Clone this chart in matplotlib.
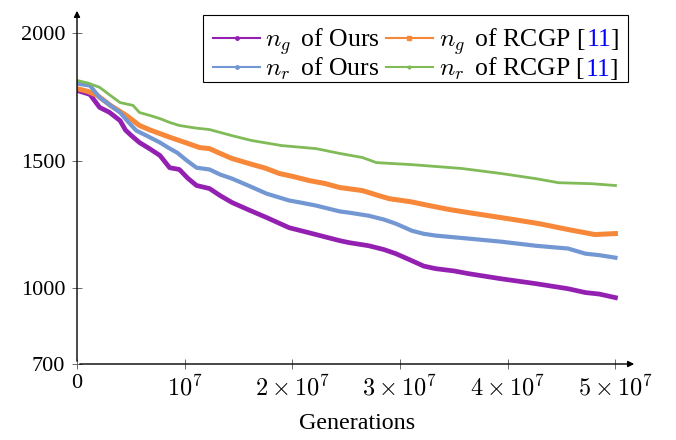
import matplotlib
matplotlib.use("Agg")
import matplotlib.pyplot as plt
from matplotlib.lines import Line2D
from matplotlib.patches import Rectangle

plt.rcParams['font.family'] = ['Liberation Serif', 'DejaVu Serif']
plt.rcParams['mathtext.fontset'] = 'cm'

# Generations in units of 1e7
ours_ng_x = [0, 0.12, 0.21, 0.3, 0.4, 0.45, 0.5, 0.58, 0.68, 0.77, 0.86, 0.95, 1.03, 1.11, 1.23, 1.33, 1.44,
             1.6, 1.76, 1.97, 2.1, 2.22, 2.44, 2.53, 2.71, 2.85, 2.96, 3.11, 3.22, 3.33, 3.5, 3.64, 3.94,
             4.26, 4.56, 4.72, 4.85, 5.0]
ours_ng_y = [1776, 1760, 1709, 1690, 1657, 1620, 1600, 1571, 1545, 1520, 1472, 1465, 1430, 1402, 1390,
             1362, 1335, 1305, 1276, 1236, 1222, 1209, 1185, 1177, 1165, 1150, 1134, 1106, 1085, 1075, 1066,
             1055, 1035, 1016, 996, 981, 975, 961]

rcgp_ng_x = [0, 0.1, 0.19, 0.31, 0.46, 0.58, 0.68, 0.77, 0.86, 0.95, 1.14, 1.23, 1.33, 1.44, 1.6, 1.75,
             1.88, 2.0, 2.16, 2.3, 2.44, 2.65, 2.78, 2.9, 3.1, 3.27, 3.45, 3.64, 4.01, 4.29, 4.57, 4.81, 5.0]
rcgp_ng_y = [1783, 1772, 1756, 1717, 1677, 1638, 1620, 1606, 1592, 1579, 1551, 1547, 1528, 1508, 1488,
             1470, 1449, 1438, 1421, 1410, 1394, 1382, 1365, 1350, 1338, 1323, 1308, 1295, 1271, 1252, 1228,
             1209, 1213]

ours_nr_x = [0, 0.12, 0.21, 0.3, 0.4, 0.48, 0.55, 0.66, 0.77, 0.85, 0.93, 1.02, 1.11, 1.23, 1.33, 1.44,
             1.6, 1.76, 1.97, 2.1, 2.22, 2.44, 2.53, 2.71, 2.85, 2.96, 3.11, 3.22, 3.33, 3.64, 3.94, 4.26,
             4.56, 4.72, 4.85, 5.0]
ours_nr_y = [1803, 1795, 1748, 1720, 1689, 1650, 1618, 1595, 1571, 1550, 1531, 1500, 1472, 1465, 1445,
             1429, 1400, 1370, 1343, 1333, 1323, 1300, 1295, 1283, 1268, 1252, 1224, 1212, 1205, 1193, 1181,
             1165, 1154, 1134, 1128, 1118]

rcgp_nr_x = [0, 0.1, 0.21, 0.31, 0.4, 0.52, 0.58, 0.68, 0.77, 0.86, 0.95, 1.1, 1.23, 1.44, 1.62, 1.9,
             2.22, 2.44, 2.65, 2.78, 3.11, 3.57, 3.94, 4.26, 4.47, 4.78, 5.0]
rcgp_nr_y = [1815, 1805, 1788, 1756, 1728, 1717, 1689, 1677, 1665, 1650, 1638, 1628, 1622, 1598, 1579,
             1559, 1547, 1528, 1512, 1492, 1484, 1469, 1449, 1429, 1413, 1409, 1402]

x_ticks = [0, 1, 2, 3, 4, 5]
x_tick_labels = ['0', r'$10^7$', r'$2\times10^7$', r'$3\times10^7$', r'$4\times10^7$', r'$5\times10^7$']
y_ticks = [700, 1000, 1500, 2000]

c_purple = '#9420B2'
c_orange = '#F7883A'
c_blue = '#7397D2'
c_green = '#80BB58'
c_ref = '#0000FF'

W, H = 676, 440
fig = plt.figure(figsize=(W/100, H/100), dpi=100)
ax = fig.add_axes([77/W, 1-364/H, (637-77)/W, (364-8)/H])

ax.plot([x*1e7 for x in ours_ng_x], ours_ng_y, color=c_purple, lw=3.4, solid_joinstyle='round')
ax.plot([x*1e7 for x in rcgp_ng_x], rcgp_ng_y, color=c_orange, lw=3.6, solid_joinstyle='round')
ax.plot([x*1e7 for x in ours_nr_x], ours_nr_y, color=c_blue, lw=3.0, solid_joinstyle='round')
ax.plot([x*1e7 for x in rcgp_nr_x], rcgp_nr_y, color=c_green, lw=2.0, solid_joinstyle='round')

ax.set_xlim(0, 5.2e7)
ax.set_ylim(700, 2100)
for s in ax.spines.values():
    s.set_visible(False)

ax.annotate('', xy=(1, 0), xytext=(0, 0), xycoords='axes fraction',
            arrowprops=dict(arrowstyle='-|>', color='black', lw=1.0, mutation_scale=9))
ax.annotate('', xy=(0, 1), xytext=(0, 0), xycoords='axes fraction',
            arrowprops=dict(arrowstyle='-|>', color='black', lw=1.0, mutation_scale=9))

ax.set_xticks([x*1e7 for x in x_ticks])
ax.set_xticklabels(x_tick_labels)
ax.set_yticks(y_ticks)
ax.set_yticklabels([str(v) for v in y_ticks])
ax.tick_params(direction='inout', length=7, width=0.6, color='#555555', labelsize=16, pad=5)
ax.tick_params(axis='x', pad=4)
for t in ax.get_xticklabels()[1:]:
    t.set_fontsize(17.5)
ax.set_xlabel('Generations', fontsize=17.3, labelpad=9)

# ---- legend, built by hand so that the citation number can be blue ----
leg_fs = 18.5
renderer = fig.canvas.get_renderer()

def fx(px):
    return px / W

def fy(py):
    return 1 - py / H

def put_text(x_px, base_px, s, color='black'):
    t = fig.text(fx(x_px), fy(base_px), s, fontsize=leg_fs, color=color,
                 ha='left', va='baseline', zorder=6)
    return t.get_window_extent(renderer).x1

def put_handle(x0, x1, y, color, marker, ms):
    fig.add_artist(Line2D([fx(x0), fx(x1)], [fy(y), fy(y)], transform=fig.transFigure,
                          color=color, lw=1.5, zorder=6))
    fig.add_artist(Line2D([fx((x0 + x1) / 2)], [fy(y)], transform=fig.transFigure,
                          color=color, marker=marker, ms=ms, lw=0, zorder=6))

col1 = [(c_purple, 'o', 2.5, r'$n_g\,$ of Ours'), (c_blue, 'o', 2.5, r'$n_r\,$ of Ours')]
col2 = [(c_orange, 's', 3.0, r'$n_g\,$ of RCGP ['), (c_green, 'o', 2.0, r'$n_r\,$ of RCGP [')]
cite = '11'

box_left, box_top, box_bottom = 203, 15, 82
baselines = [46.5, 75.5]
hl = 47
x_h1 = box_left + 10
x_t1 = x_h1 + hl + 5
ends1 = []
for (c, m, ms, s), b in zip(col1, baselines):
    put_handle(x_h1, x_h1 + hl, b - 8, c, m, ms)
    ends1.append(put_text(x_t1, b, s))
x_h2 = max(ends1) + 6
x_t2 = x_h2 + hl + 6
ends2 = []
for (c, m, ms, s), b in zip(col2, baselines):
    put_handle(x_h2, x_h2 + hl, b - 8, c, m, ms)
    e = put_text(x_t2, b, s)
    e = put_text(e + 0.5, b, cite, color=c_ref)
    e = put_text(e - 1.0, b, ']')
    ends2.append(e)
box_right = max(ends2) + 9
fig.add_artist(Rectangle((fx(box_left), fy(box_bottom)), fx(box_right) - fx(box_left),
                         (box_bottom - box_top) / H, transform=fig.transFigure,
                         facecolor='white', edgecolor='black', lw=0.8, zorder=5))

fig.savefig('out.png', dpi=100)
